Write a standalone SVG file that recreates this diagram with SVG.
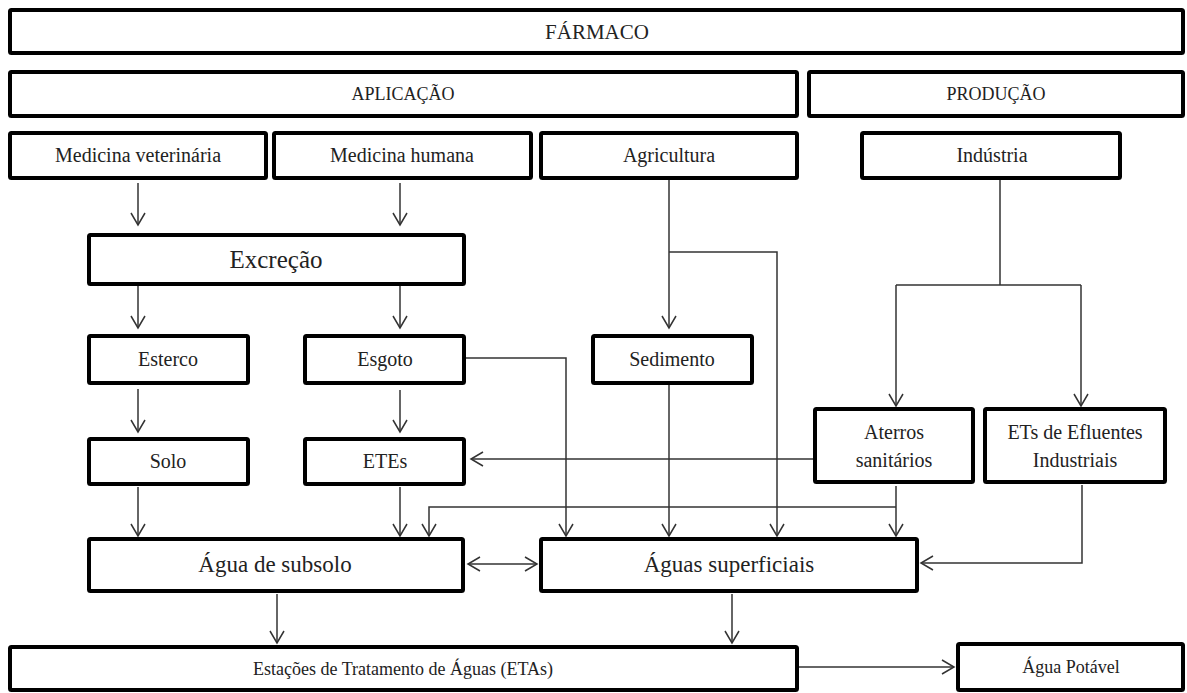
<svg xmlns="http://www.w3.org/2000/svg" width="1187" height="693" viewBox="0 0 1187 693">
<style>
.box{fill:#fff;stroke:#000;stroke-width:4;rx:1.5}
.t{font-family:"Liberation Serif","Times New Roman",serif;fill:#222;text-anchor:middle}
.s18{font-size:18px}.s20{font-size:20px}.s21{font-size:21px}.s23{font-size:23px}.s25{font-size:25px}
.c{fill:none;stroke:#333;stroke-width:1.5}
.a{marker-end:url(#ah)}
</style>
<defs>
<marker id="ah" markerUnits="userSpaceOnUse" markerWidth="16" markerHeight="18" refX="13" refY="8" orient="auto-start-reverse" viewBox="0 0 16 16">
<path d="M1,1 L13,8 L1,15" fill="none" stroke="#333" stroke-width="1.5"/>
</marker>
</defs>
<rect width="1187" height="693" fill="#fff"/>
<g id="connectors">
<path class="c a" d="M138,183 V225"/>
<path class="c a" d="M400,183 V225"/>
<path class="c a" d="M138,286 V328"/>
<path class="c a" d="M400,286 V328"/>
<path class="c a" d="M138,389 V432"/>
<path class="c a" d="M400,390 V432"/>
<path class="c a" d="M138,487 V536"/>
<path class="c a" d="M400,487 V536"/>
<path class="c a" d="M465,358 H566 V536"/>
<path class="c a" d="M669,180 V328"/>
<path class="c a" d="M669,252 H777 V536"/>
<path class="c a" d="M669,385 V536"/>
<path class="c" d="M1000,180 V285 M896,285 H1081"/>
<path class="c a" d="M896,285 V406"/>
<path class="c a" d="M1081,285 V406"/>
<path class="c a" d="M815,459 H471"/>
<path class="c a" d="M896,486 V536"/>
<path class="c a" d="M896,507 H429 V536"/>
<path class="c a" d="M1082,485 V563 H921"/>
<path class="c a" d="M468,564 H537" marker-start="url(#ah)"/>
<path class="c a" d="M277,594 V643"/>
<path class="c a" d="M732,594 V643"/>
<path class="c a" d="M799,667 H954"/>
</g>
<g id="farmaco"><rect class="box" x="10" y="10" width="1173" height="43"/><text class="t s21" x="597" y="39">FÁRMACO</text></g>
<g id="aplicacao"><rect class="box" x="10" y="72" width="787" height="44"/><text class="t s18" x="403" y="100">APLICAÇÃO</text></g>
<g id="producao"><rect class="box" x="809" y="72" width="374" height="44"/><text class="t s18" x="996" y="100">PRODUÇÃO</text></g>
<g id="med-vet"><rect class="box" x="10" y="133" width="256" height="45"/><text class="t s20" x="138" y="162">Medicina veterinária</text></g>
<g id="med-hum"><rect class="box" x="274" y="133" width="257" height="45"/><text class="t s20" x="402" y="162">Medicina humana</text></g>
<g id="agricultura"><rect class="box" x="541" y="133" width="256" height="45"/><text class="t s20" x="669" y="162">Agricultura</text></g>
<g id="industria"><rect class="box" x="862" y="133" width="258" height="45"/><text class="t s20" x="992" y="162">Indústria</text></g>
<g id="excrecao"><rect class="box" x="89" y="235" width="375" height="49"/><text class="t s25" x="276" y="268">Excreção</text></g>
<g id="esterco"><rect class="box" x="89" y="336" width="159" height="47"/><text class="t s20" x="168" y="366">Esterco</text></g>
<g id="esgoto"><rect class="box" x="305" y="336" width="159" height="47"/><text class="t s20" x="385" y="366">Esgoto</text></g>
<g id="sedimento"><rect class="box" x="593" y="336" width="159" height="47"/><text class="t s20" x="672" y="366">Sedimento</text></g>
<g id="aterros"><rect class="box" x="815" y="409" width="158" height="73"/><text class="t s20" x="894" y="439">Aterros</text><text class="t s20" x="894" y="467">sanitários</text></g>
<g id="ets-efluentes"><rect class="box" x="985" y="409" width="180" height="73"/><text class="t s20" x="1075" y="439">ETs de Efluentes</text><text class="t s20" x="1075" y="467">Industriais</text></g>
<g id="solo"><rect class="box" x="89" y="439" width="159" height="45"/><text class="t s20" x="168" y="468">Solo</text></g>
<g id="etes"><rect class="box" x="305" y="439" width="159" height="45"/><text class="t s20" x="385" y="468">ETEs</text></g>
<g id="agua-subsolo"><rect class="box" x="89" y="539" width="374" height="52"/><text class="t s23" x="275" y="572">Água de subsolo</text></g>
<g id="aguas-superficiais"><rect class="box" x="541" y="539" width="376" height="52"/><text class="t s23" x="729" y="572">Águas superficiais</text></g>
<g id="etas"><rect class="box" x="10" y="647" width="787" height="43"/><text class="t s18" x="403" y="675">Estações de Tratamento de Águas (ETAs)</text></g>
<g id="agua-potavel"><rect class="box" x="958" y="644" width="225" height="46"/><text class="t s18" x="1071" y="673">Água Potável</text></g>
</svg>
